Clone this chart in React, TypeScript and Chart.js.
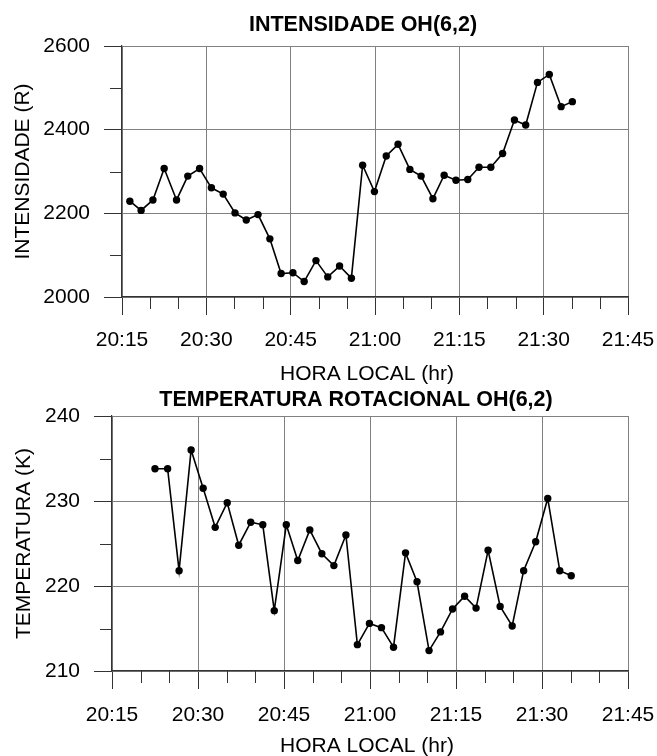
import React, { useEffect, useRef } from "react";
import { Chart, registerables } from "chart.js";

Chart.register(...registerables);

// Local time in minutes past 20:00 for each sample
const TIME_MIN = [
  16.4, 18.4, 20.5, 22.5, 24.7, 26.7, 28.8, 30.9, 33.0, 35.1,
  37.1, 39.2, 41.3, 43.3, 45.4, 47.4, 49.5, 51.6, 53.7, 55.8,
  57.8, 59.9, 62.0, 64.1, 66.2, 68.2, 70.3, 72.3, 74.4, 76.5,
  78.5, 80.6, 82.7, 84.8, 86.8, 88.9, 91.0, 93.1, 95.1,
];

// OH(6,2) intensity in Rayleigh
const INTENSITY = [
  2229, 2207, 2232, 2307, 2232, 2289, 2307, 2261, 2246, 2201,
  2184, 2197, 2139, 2056, 2058, 2037, 2087, 2048, 2074, 2045,
  2315, 2252, 2337, 2365, 2305, 2289, 2235, 2291, 2279, 2281,
  2310, 2310, 2343, 2423, 2411, 2513, 2532, 2455, 2467,
];

// OH(6,2) rotational temperature in K (no value for first three samples)
const TEMPERATURE: (number | null)[] = [
  null, null, null, 233.8, 233.8, 221.8, 236.0, 231.5, 226.9, 229.8,
  224.8, 227.5, 227.2, 217.1, 227.2, 223.0, 226.6, 223.8, 222.4, 226.0,
  213.1, 215.6, 215.1, 212.8, 223.9, 220.5, 212.4, 214.6, 217.3, 218.8,
  217.4, 224.2, 217.6, 215.3, 221.8, 225.2, 230.3, 221.8, 221.2,
];

const X_MIN = 15; // 20:15
const X_MAX = 105; // 21:45
const X_MINOR_STEP = 5;
const X_MAJOR_STEP = 15;

const TITLE_TOP = "INTENSIDADE OH(6,2)";
const TITLE_BOTTOM = "TEMPERATURA ROTACIONAL OH(6,2)";
const X_TITLE = "HORA LOCAL (hr)";
const Y_TITLE_TOP = "INTENSIDADE (R)";
const Y_TITLE_BOTTOM = "TEMPERATURA (K)";

const FONT = "'Liberation Sans', Arial, Helvetica, sans-serif";
const GRID = "#808080";
const AXIS = "#333333";
const CLEAR = "rgba(0,0,0,0)";

function isMultiple(v: number, step: number) {
  const r = v / step;
  return Math.abs(r - Math.round(r)) < 1e-6;
}

function fmtTime(v: number) {
  const h = 20 + Math.floor(v / 60);
  const m = Math.round(v % 60);
  return `${h}:${String(m).padStart(2, "0")}`;
}

type Opts = {
  values: (number | null)[];
  yMin: number;
  yMax: number;
  yMinorStep: number;
  yMajorStep: number;
  yWidth: number;
  padTop: number;
  plotHeight: number;
  canvasHeight: number;
  xTickPad: number;
  title: string;
  titleX: number;
  titleY: number;
  xTitleX: number;
  xTitleY: number;
  yTitle: string;
  yTitleX: number;
};

function makeConfig(o: Opts): any {
  const points = TIME_MIN.map((t, i) => ({ x: t, y: o.values[i] })).filter(
    (p) => p.y !== null && p.y !== undefined
  );

  const minorTicks = {
    id: "minorTicks",
    afterDraw(chart: any) {
      const { ctx, chartArea } = chart;
      const xs = chart.scales.x;
      const ys = chart.scales.y;
      ctx.save();
      ctx.strokeStyle = AXIS;
      ctx.lineWidth = 1;
      xs.ticks.forEach((t: any) => {
        if (!isMultiple(t.value - X_MIN, X_MAJOR_STEP)) {
          const px = Math.round(xs.getPixelForValue(t.value)) + 0.5;
          ctx.beginPath();
          ctx.moveTo(px, chartArea.bottom);
          ctx.lineTo(px, chartArea.bottom + 12);
          ctx.stroke();
        }
      });
      ys.ticks.forEach((t: any) => {
        if (!isMultiple(t.value, o.yMajorStep)) {
          const py = Math.round(ys.getPixelForValue(t.value)) + 0.5;
          ctx.beginPath();
          ctx.moveTo(chartArea.left - 12, py);
          ctx.lineTo(chartArea.left, py);
          ctx.stroke();
        }
      });
      ctx.restore();
    },
  };

  const texts = {
    id: "texts",
    afterDraw(chart: any) {
      const { ctx, chartArea } = chart;
      ctx.save();
      ctx.fillStyle = "#000";
      ctx.textAlign = "center";
      ctx.textBaseline = "alphabetic";
      ctx.font = `bold 21.5px ${FONT}`;
      ctx.fillText(o.title, o.titleX, o.titleY);
      ctx.font = `21px ${FONT}`;
      ctx.fillText(X_TITLE, o.xTitleX, o.xTitleY);
      ctx.translate(o.yTitleX, (chartArea.top + chartArea.bottom) / 2);
      ctx.rotate(-Math.PI / 2);
      ctx.fillText(o.yTitle, 0, 0);
      ctx.restore();
    },
  };

  const xMajor = (v: number) => isMultiple(v - X_MIN, X_MAJOR_STEP);
  const yMajor = (v: number) => isMultiple(v, o.yMajorStep);

  return {
    type: "scatter",
    data: {
      datasets: [
        {
          data: points,
          showLine: true,
          borderColor: "#000",
          borderWidth: 1.6,
          backgroundColor: "#000",
          pointBackgroundColor: "#000",
          pointBorderColor: "#000",
          pointBorderWidth: 0,
          pointRadius: 3.7,
          tension: 0,
        },
      ],
    },
    options: {
      animation: false,
      responsive: false,
      devicePixelRatio: 1,
      events: [],
      layout: { padding: { left: 0, right: 29, top: o.padTop, bottom: 0 } },
      plugins: {
        legend: { display: false },
        tooltip: { enabled: false },
        title: { display: false },
      },
      scales: {
        x: {
          type: "linear",
          min: X_MIN,
          max: X_MAX,
          afterFit(scale: any) {
            scale.height = o.canvasHeight - o.padTop - o.plotHeight;
            scale.paddingLeft = 0;
            scale.paddingRight = 0;
          },
          ticks: {
            stepSize: X_MINOR_STEP,
            autoSkip: false,
            maxRotation: 0,
            minRotation: 0,
            padding: o.xTickPad,
            color: "#000",
            font: { family: FONT, size: 21 },
            callback: (v: any) => (xMajor(Number(v)) ? fmtTime(Number(v)) : ""),
          },
          grid: {
            color: (c: any) => (c.tick && xMajor(c.tick.value) ? GRID : CLEAR),
            tickColor: (c: any) => (c.tick && xMajor(c.tick.value) ? AXIS : CLEAR),
            tickLength: 18,
            lineWidth: 1,
          },
          border: { display: true, color: AXIS, width: 1.2 },
        },
        y: {
          type: "linear",
          min: o.yMin,
          max: o.yMax,
          afterFit(scale: any) {
            scale.width = o.yWidth;
            scale.paddingTop = 0;
            scale.paddingBottom = 0;
          },
          ticks: {
            stepSize: o.yMinorStep,
            autoSkip: false,
            padding: 14,
            color: "#000",
            font: { family: FONT, size: 21 },
            callback: (v: any) => (yMajor(Number(v)) ? String(v) : ""),
          },
          grid: {
            color: (c: any) => (c.tick && yMajor(c.tick.value) ? GRID : CLEAR),
            tickColor: (c: any) => (c.tick && yMajor(c.tick.value) ? AXIS : CLEAR),
            tickLength: 18,
            lineWidth: 1,
          },
          border: { display: true, color: AXIS, width: 1.2 },
        },
      },
    },
    plugins: [minorTicks, texts],
  };
}

const TOP_H = 386;
const BOT_H = 370;

export default function App() {
  const topRef = useRef<HTMLCanvasElement>(null);
  const botRef = useRef<HTMLCanvasElement>(null);

  useEffect(() => {
    const c1 = new Chart(
      topRef.current as HTMLCanvasElement,
      makeConfig({
        values: INTENSITY,
        yMin: 2000,
        yMax: 2600,
        yMinorStep: 100,
        yMajorStep: 200,
        yWidth: 122,
        padTop: 46,
        plotHeight: 251,
        canvasHeight: TOP_H,
        xTickPad: 12.5,
        title: TITLE_TOP,
        titleX: 363,
        titleY: 31,
        xTitleX: 367,
        xTitleY: 380,
        yTitle: Y_TITLE_TOP,
        yTitleX: 29,
      })
    );
    const c2 = new Chart(
      botRef.current as HTMLCanvasElement,
      makeConfig({
        values: TEMPERATURE,
        yMin: 210,
        yMax: 240,
        yMinorStep: 5,
        yMajorStep: 10,
        yWidth: 112,
        padTop: 30,
        plotHeight: 255,
        canvasHeight: BOT_H,
        xTickPad: 13.5,
        title: TITLE_BOTTOM,
        titleX: 356,
        titleY: 19.5,
        xTitleX: 367,
        xTitleY: 366,
        yTitle: Y_TITLE_BOTTOM,
        yTitleX: 30,
      })
    );
    return () => {
      c1.destroy();
      c2.destroy();
    };
  }, []);

  return (
    <div
      style={{
        position: "fixed",
        left: 0,
        top: 0,
        width: 657,
        height: 756,
        background: "#fff",
      }}
    >
      <canvas
        ref={topRef}
        width={657}
        height={TOP_H}
        style={{ position: "absolute", left: 0, top: 0, width: 657, height: TOP_H }}
      />
      <canvas
        ref={botRef}
        width={657}
        height={BOT_H}
        style={{ position: "absolute", left: 0, top: TOP_H, width: 657, height: BOT_H }}
      />
    </div>
  );
}
